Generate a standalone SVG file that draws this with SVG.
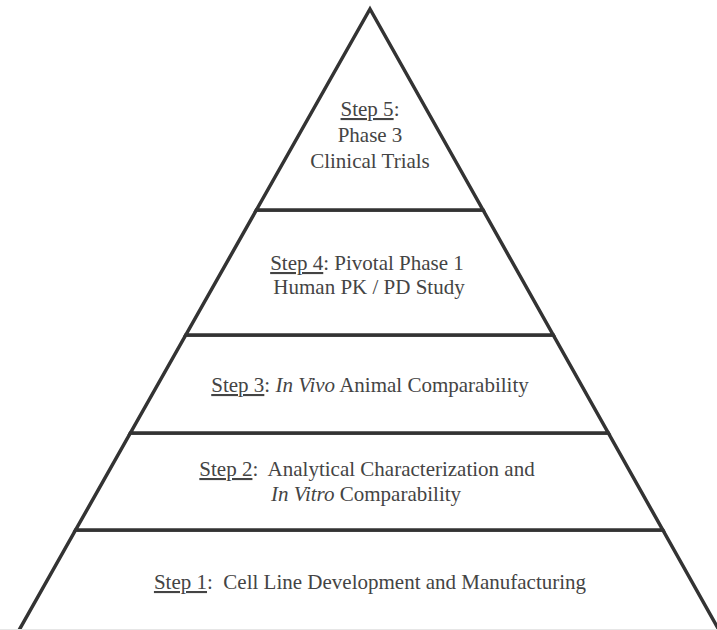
<svg xmlns="http://www.w3.org/2000/svg" width="717" height="630" viewBox="0 0 717 630">
<style>
.tier{fill:#fff;stroke:#333;stroke-width:3.5;stroke-linejoin:miter;stroke-miterlimit:20}
.t{font-family:'Liberation Serif','Times New Roman','DejaVu Serif',serif;font-size:21px;fill:#444;text-anchor:middle}
.u{text-decoration:underline}
.i{font-style:italic}
</style>
<rect width="717" height="630" fill="#fff"/>
<g id="step1">
<polygon class="tier" points="75.6,530 662.8,530 724.6,640 13.5,640"/>
<text class="t" x="370" y="589"><tspan class="u">Step 1</tspan>:&#160; Cell Line Development and Manufacturing</text>
</g>
<g id="step2">
<polygon class="tier" points="130.4,433 608.3,433 662.8,530 75.6,530"/>
<text class="t" x="367" y="476"><tspan class="u">Step 2</tspan>:&#160; Analytical Characterization and</text>
<text class="t" x="366" y="501"><tspan class="i">In Vitro</tspan> Comparability</text>
</g>
<g id="step3">
<polygon class="tier" points="185.8,335 553.2,335 608.3,433 130.4,433"/>
<text class="t" x="370" y="392"><tspan class="u">Step 3</tspan>: <tspan class="i">In Vivo</tspan> Animal Comparability</text>
</g>
<g id="step4">
<polygon class="tier" points="256.4,210 483,210 553.2,335 185.8,335"/>
<text class="t" x="367" y="270"><tspan class="u">Step 4</tspan>: Pivotal Phase 1</text>
<text class="t" x="369" y="294">Human PK / PD Study</text>
</g>
<g id="step5">
<polygon class="tier" points="370,9 483,210 256.4,210"/>
<text class="t" x="370" y="116"><tspan class="u">Step 5</tspan>:</text>
<text class="t" x="370" y="142">Phase 3</text>
<text class="t" x="370" y="168">Clinical Trials</text>
</g>
<g id="connectors"></g>
<line x1="0" y1="629.5" x2="717" y2="629.5" stroke="#e6e6e6" stroke-width="1"/>
</svg>
